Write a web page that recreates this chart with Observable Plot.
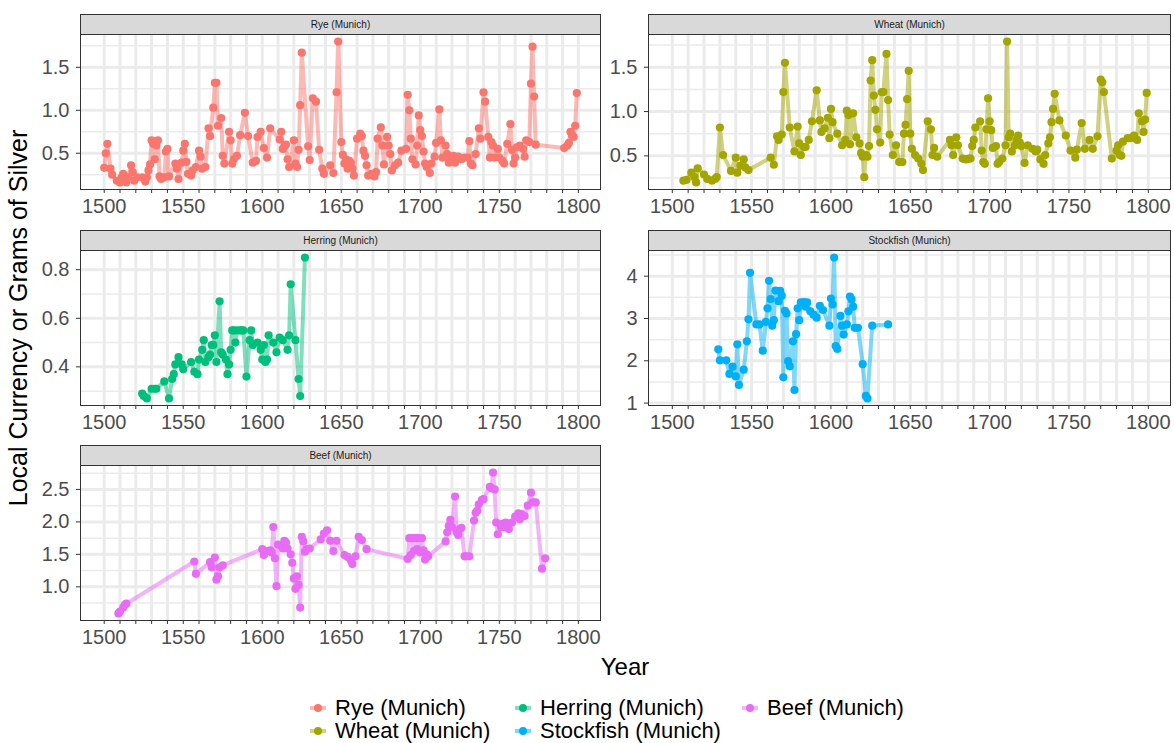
<!DOCTYPE html>
<html><head><meta charset="utf-8">
<script src="https://cdn.jsdelivr.net/npm/d3@7"></script>
<script src="https://cdn.jsdelivr.net/npm/@observablehq/plot@0.6"></script>
<style>
body{margin:0;background:#fff;font-family:"Liberation Sans",Arial,sans-serif;}
#root{position:relative;width:1174px;height:743px;overflow:hidden;background:#fff;}
.strip{position:absolute;box-sizing:border-box;height:21px;background:#D9D9D9;border:1px solid #333;font-size:10px;color:#1A1A1A;text-align:center;line-height:19px;}
.abs{position:absolute;white-space:nowrap;}
</style></head><body><div id="root"></div>
<script>
// ---------- data ----------
const seriesNames = ["Rye (Munich)", "Wheat (Munich)", "Herring (Munich)", "Stockfish (Munich)", "Beef (Munich)"];
const seriesColors = ["#F8766D", "#A3A500", "#00BF7D", "#00B0F6", "#E76BF3"];

const ryeYears = [1500,1501,1502,1504,1505,1508,1510,1511,1512,1514,1515,1517,1518,1519,1521,1524,1526,1527,1528,1529,1530,1531,1532,1533,1534,1535,1536,1538,1539,1540,1541,1545,1546,1547,1549,1550,1551,1552,1553,1555,1556,1558,1560,1561,1562,1564,1566,1567,1569,1570,1571,1572,1574,1575,1576,1579,1580,1581,1582,1584,1586,1589,1591,1594,1596,1597,1599,1601,1603,1605,1611,1612,1613,1614,1615,1616,1617,1620,1621,1622,1623,1624,1625,1629,1630,1632,1634,1636,1638,1639,1643,1645,1647,1648,1650,1651,1652,1653,1654,1655,1656,1657,1658,1660,1662,1663,1664,1665,1666,1667,1669,1671,1672,1673,1675,1676,1677,1679,1680,1681,1682,1684,1686,1688,1691,1692,1693,1694,1695,1697,1698,1699,1700,1701,1702,1703,1704,1706,1707,1709,1710,1712,1713,1714,1716,1717,1718,1719,1721,1722,1723,1724,1726,1728,1730,1731,1732,1733,1735,1737,1738,1740,1741,1743,1744,1745,1746,1747,1749,1750,1752,1753,1755,1757,1758,1759,1760,1761,1763,1765,1766,1767,1769,1770,1771,1772,1773,1791,1793,1794,1795,1796,1797,1798,1799];
const ryeValues = [0.33,0.50,0.61,0.32,0.25,0.18,0.16,0.22,0.26,0.16,0.22,0.36,0.28,0.18,0.22,0.22,0.17,0.22,0.30,0.37,0.65,0.61,0.43,0.59,0.65,0.23,0.20,0.22,0.52,0.55,0.23,0.38,0.32,0.20,0.39,0.53,0.61,0.40,0.26,0.24,0.30,0.34,0.53,0.46,0.32,0.34,0.79,0.70,1.03,1.32,1.32,0.82,0.91,0.47,0.38,0.75,0.65,0.38,0.43,0.47,0.71,0.97,0.70,0.39,0.41,0.69,0.75,0.56,0.45,0.79,0.66,0.75,0.55,0.58,0.60,0.43,0.34,0.65,0.38,0.34,0.54,1.06,1.67,0.58,0.42,1.14,1.10,0.54,0.32,0.26,0.36,0.27,1.21,1.80,0.63,0.48,0.38,0.43,0.32,0.41,0.39,0.32,0.24,0.67,0.73,0.70,0.53,0.47,0.36,0.24,0.26,0.23,0.28,0.67,0.80,0.59,0.37,0.69,0.59,0.49,0.30,0.36,0.39,0.53,0.55,1.18,1.00,0.67,0.43,0.37,0.59,0.94,0.77,0.70,0.52,0.38,0.34,0.27,0.38,0.46,0.62,1.01,0.65,0.45,0.59,0.49,0.39,0.43,0.47,0.39,0.44,0.46,0.43,0.45,0.45,0.64,0.38,0.36,0.49,0.79,0.67,1.21,1.10,0.69,0.45,0.63,0.59,0.45,0.55,0.45,0.41,0.38,0.61,0.84,0.54,0.38,0.45,0.57,0.59,0.55,0.46,0.65,0.63,1.31,1.74,1.16,0.60,0.56,0.59,0.62,0.75,0.71,0.69,0.82,1.20];

const wheatYears = [1507,1509,1512,1514,1515,1516,1520,1522,1525,1527,1528,1530,1532,1537,1540,1541,1543,1545,1546,1548,1562,1564,1566,1567,1569,1570,1571,1574,1577,1579,1580,1581,1583,1584,1586,1588,1591,1593,1594,1596,1598,1599,1600,1601,1604,1607,1609,1610,1611,1612,1614,1616,1618,1619,1620,1621,1622,1623,1624,1625,1626,1627,1628,1629,1631,1632,1633,1635,1636,1637,1639,1641,1643,1645,1646,1647,1648,1649,1650,1651,1653,1655,1657,1658,1661,1663,1664,1665,1667,1675,1676,1677,1679,1680,1683,1685,1687,1688,1689,1690,1691,1694,1695,1696,1697,1698,1699,1700,1701,1702,1704,1705,1706,1708,1710,1711,1712,1713,1714,1716,1717,1718,1719,1720,1722,1724,1727,1729,1730,1732,1734,1735,1737,1738,1739,1740,1741,1744,1748,1751,1754,1755,1758,1760,1763,1765,1768,1770,1771,1772,1777,1780,1781,1782,1783,1784,1787,1789,1791,1793,1794,1796,1797,1798,1799];
const wheatValues = [0.22,0.23,0.31,0.26,0.20,0.36,0.29,0.24,0.22,0.24,0.26,0.82,0.51,0.33,0.48,0.31,0.39,0.46,0.37,0.34,0.48,0.40,0.72,0.68,0.74,1.22,1.55,0.82,0.55,0.83,0.64,0.51,0.60,0.60,0.68,0.89,1.24,0.90,0.77,0.81,0.93,0.70,1.03,0.88,0.75,0.62,0.68,1.01,0.96,0.63,0.98,0.71,0.64,0.53,0.49,0.26,0.51,0.49,0.61,1.35,1.58,1.18,1.02,0.80,0.65,1.22,1.22,1.65,1.13,0.74,0.51,0.62,0.43,0.43,0.75,0.85,1.14,1.46,0.75,0.58,0.51,0.47,0.41,0.34,0.89,0.80,0.51,0.59,0.49,0.68,0.62,0.51,0.71,0.62,0.47,0.46,0.47,0.47,0.61,0.68,0.82,0.89,0.56,0.43,0.41,0.80,1.15,0.89,0.79,0.59,0.61,0.41,0.43,0.47,0.62,1.79,0.71,0.75,0.55,0.62,0.68,0.73,0.65,0.61,0.42,0.62,0.58,0.55,0.57,0.46,0.41,0.51,0.64,0.71,0.88,1.03,1.20,0.90,0.73,0.56,0.48,0.57,0.87,0.58,0.68,0.58,0.72,1.36,1.33,1.22,0.47,0.56,0.62,0.51,0.50,0.66,0.70,0.70,0.73,0.68,0.98,0.89,0.77,0.91,1.21];

const herringYears = [1524,1525,1527,1530,1532,1533,1538,1541,1543,1544,1545,1547,1549,1550,1555,1557,1559,1560,1562,1563,1564,1566,1567,1568,1569,1570,1571,1573,1574,1575,1577,1578,1579,1580,1581,1582,1583,1584,1586,1587,1588,1590,1592,1593,1594,1597,1599,1600,1601,1602,1603,1604,1607,1609,1611,1613,1616,1617,1618,1621,1623,1624,1627];
const herringValues = [0.29,0.28,0.27,0.31,0.31,0.31,0.34,0.27,0.35,0.37,0.41,0.44,0.41,0.39,0.42,0.38,0.37,0.43,0.47,0.51,0.42,0.44,0.45,0.49,0.49,0.53,0.42,0.67,0.46,0.45,0.43,0.37,0.41,0.47,0.55,0.55,0.50,0.55,0.55,0.55,0.55,0.36,0.51,0.55,0.49,0.50,0.47,0.43,0.49,0.42,0.43,0.53,0.50,0.46,0.52,0.51,0.47,0.53,0.74,0.51,0.35,0.28,0.85];

const stockfishYears = [1529,1530,1534,1536,1538,1540,1541,1542,1545,1547,1548,1549,1553,1555,1557,1559,1560,1561,1562,1563,1564,1565,1567,1568,1569,1570,1571,1572,1573,1574,1576,1577,1578,1579,1580,1581,1583,1584,1585,1587,1589,1591,1593,1595,1599,1600,1601,1602,1603,1604,1606,1607,1608,1610,1611,1612,1613,1614,1615,1617,1620,1622,1623,1626,1636];
const stockfishValues = [2.27,2.01,2.01,1.69,1.86,1.63,2.39,1.43,1.79,2.46,2.98,4.08,2.86,2.86,2.24,2.92,3.24,3.89,3.46,2.83,2.96,3.66,3.41,3.65,3.54,1.61,3.18,3.12,1.99,1.87,2.46,1.31,2.63,3.24,2.96,3.38,3.39,3.28,3.38,3.17,3.09,3.02,3.30,3.20,2.83,3.47,3.33,4.44,2.35,2.28,3.06,2.83,2.62,2.86,3.17,3.52,3.45,3.28,2.78,2.78,1.92,1.17,1.11,2.83,2.86];

const beefYears = [1509,1510,1512,1513,1514,1557,1558,1567,1568,1570,1571,1572,1573,1575,1600,1601,1603,1605,1606,1607,1608,1609,1610,1612,1613,1614,1615,1616,1618,1619,1620,1621,1622,1623,1624,1625,1626,1627,1628,1630,1637,1639,1641,1643,1645,1647,1652,1654,1656,1657,1659,1661,1663,1666,1692,1693,1694,1695,1696,1697,1698,1699,1700,1701,1702,1703,1704,1705,1716,1717,1718,1719,1720,1722,1723,1724,1725,1726,1728,1729,1731,1734,1735,1736,1737,1739,1740,1744,1745,1746,1747,1748,1749,1751,1752,1753,1754,1755,1756,1758,1760,1762,1763,1764,1766,1768,1770,1771,1773,1777,1779];
const beefValues = [0.59,0.62,0.68,0.72,0.74,1.39,1.20,1.38,1.30,1.45,1.11,1.16,1.30,1.33,1.58,1.49,1.55,1.56,1.53,1.92,1.44,1.01,1.65,1.63,1.59,1.71,1.68,1.59,1.50,1.37,1.13,0.97,1.16,1.03,0.68,1.77,1.70,1.54,1.58,1.59,1.73,1.82,1.87,1.71,1.55,1.71,1.49,1.46,1.41,1.35,1.47,1.77,1.72,1.58,1.43,1.75,1.49,1.75,1.55,1.75,1.58,1.75,1.53,1.75,1.56,1.42,1.50,1.47,1.70,1.84,1.94,2.03,1.92,2.39,1.84,1.80,1.89,1.91,1.47,1.47,1.47,2.02,2.14,2.17,2.27,2.34,2.35,2.54,2.52,2.76,2.50,1.99,1.81,1.92,1.97,1.92,1.99,1.94,1.89,1.99,2.08,2.13,2.04,2.12,2.09,2.25,2.45,2.30,2.30,1.28,1.44];

// tick labels / breaks
const xTickYears = d3.range(1500, 1801, 10);
const ryeMajor = [0.5, 1.0, 1.5], ryeMinor = [0.25, 0.75, 1.25, 1.75];
const wheatMajor = [0.5, 1.0, 1.5], wheatMinor = [0.25, 0.75, 1.25, 1.75];
const herringMajor = [0.4, 0.6, 0.8], herringMinor = [0.3, 0.5, 0.7];
const stockfishMajor = [1, 2, 3, 4], stockfishMinor = [1.5, 2.5, 3.5, 4.5];
const beefMajor = [1.0, 1.5, 2.0, 2.5], beefMinor = [0.75, 1.25, 1.75, 2.25, 2.75];

// ---------- layout ----------
const FONT = '"Liberation Sans", Arial, sans-serif';
const root = document.getElementById("root");
const colLeft = [80, 648], colWidth = [520, 522];
const rowTop = [34, 250, 465];
const panelH = 155;
const xDomain = [1485, 1814];
const f1 = d3.format(".1f"), f0 = d3.format(".0f");

const panels = [
  {i:0, years:ryeYears, values:ryeValues, major:ryeMajor, minor:ryeMinor, fmt:f1, col:0, row:0},
  {i:1, years:wheatYears, values:wheatValues, major:wheatMajor, minor:wheatMinor, fmt:f1, col:1, row:0},
  {i:2, years:herringYears, values:herringValues, major:herringMajor, minor:herringMinor, fmt:f1, col:0, row:1},
  {i:3, years:stockfishYears, values:stockfishValues, major:stockfishMajor, minor:stockfishMinor, fmt:f0, col:1, row:1},
  {i:4, years:beefYears, values:beefValues, major:beefMajor, minor:beefMinor, fmt:f1, col:0, row:2}
];

const mL = 60, mR = 4, mB = 40;
for (const p of panels) {
  const data = p.years.map((y, k) => ({year: y, value: p.values[k]}));
  const lo = d3.min(p.values), hi = d3.max(p.values), ex = (hi - lo) * 0.05;
  const color = seriesColors[p.i];
  const pw = colWidth[p.col], left = colLeft[p.col], top = rowTop[p.row];
  const svg = Plot.plot({
    width: mL + pw + mR, height: panelH + mB,
    marginLeft: mL, marginRight: mR, marginTop: 0, marginBottom: mB,
    style: {overflow: "visible", background: "transparent", fontFamily: FONT},
    x: {domain: xDomain},
    y: {domain: [lo - ex, hi + ex]},
    marks: [
      Plot.ruleY(p.minor, {stroke: "#EBEBEB", strokeWidth: 1.5}),
      Plot.ruleX(xTickYears, {stroke: "#EBEBEB", strokeWidth: 3}),
      Plot.ruleY(p.major, {stroke: "#EBEBEB", strokeWidth: 3}),
      Plot.line(data, {x: "year", y: "value", stroke: color, strokeWidth: 4, strokeOpacity: 0.5}),
      Plot.dot(data, {x: "year", y: "value", r: 4.1, fill: color}),
      Plot.frame({stroke: "#333333"}),
      Plot.axisX({ticks: xTickYears, tickFormat: d => d % 50 === 0 ? String(d) : "", tickSize: 4, tickPadding: 5, fontSize: 20, color: "#4D4D4D", stroke: "#333333", label: null}),
      Plot.axisY({ticks: p.major, tickFormat: p.fmt, tickSize: 4, tickPadding: 7, fontSize: 20, color: "#4D4D4D", stroke: "#333333", label: null})
    ]
  });
  svg.style.position = "absolute";
  svg.style.left = (left - mL) + "px";
  svg.style.top = top + "px";
  root.appendChild(svg);
  const strip = document.createElement("div");
  strip.className = "strip";
  strip.style.left = left + "px";
  strip.style.top = (top - 20) + "px";
  strip.style.width = (pw + 1) + "px";
  strip.textContent = seriesNames[p.i];
  root.appendChild(strip);
}

// axis titles
const yt = document.createElement("div");
yt.className = "abs";
yt.textContent = "Local Currency or Grams of Silver";
Object.assign(yt.style, {left: "18px", top: "318px", fontSize: "25px", color: "#000", transform: "translate(-50%,-50%) rotate(-90deg)"});
root.appendChild(yt);
const xt = document.createElement("div");
xt.className = "abs";
xt.textContent = "Year";
Object.assign(xt.style, {left: "625px", top: "667px", fontSize: "24px", color: "#000", transform: "translate(-50%,-50%)"});
root.appendChild(xt);

// legend (filled by column, 2 rows)
const legKeyX = [318, 523, 750], legRowY = [708, 731];
seriesNames.forEach((name, k) => {
  const c = Math.floor(k / 2), r = k % 2;
  const kx = legKeyX[c], ky = legRowY[r];
  const line = document.createElement("div");
  Object.assign(line.style, {position: "absolute", left: (kx - 8) + "px", top: (ky - 2) + "px", width: "16px", height: "4px", background: seriesColors[k], opacity: 0.5});
  root.appendChild(line);
  const dot = document.createElement("div");
  Object.assign(dot.style, {position: "absolute", left: (kx - 4) + "px", top: (ky - 4) + "px", width: "8px", height: "8px", borderRadius: "50%", background: seriesColors[k]});
  root.appendChild(dot);
  const t = document.createElement("div");
  t.className = "abs";
  t.textContent = name;
  Object.assign(t.style, {left: (kx + 17) + "px", top: (ky - 11) + "px", fontSize: "22px", color: "#000", lineHeight: "22px", height: "22px"});
  root.appendChild(t);
});
</script></body></html>
